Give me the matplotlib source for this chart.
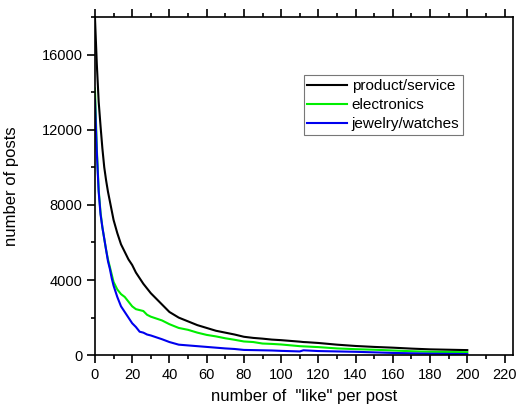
import matplotlib.pyplot as plt
from matplotlib.ticker import MultipleLocator

plt.rcParams['font.family'] = ['Liberation Sans', 'DejaVu Sans']

likes = [0, 1, 2, 3, 4, 5, 6, 7, 8, 9, 10, 12, 14, 16, 18, 20, 22, 24, 26, 28,
         30, 33, 36, 40, 45, 50, 55, 60, 65, 70, 75, 80, 85, 90, 95, 100,
         110, 112, 114, 120, 130, 140, 150, 160, 170, 180, 190, 200]

product_service = [18000, 15500, 13500, 12200, 11000, 10000, 9300, 8700, 8200, 7700,
                   7200, 6500, 5900, 5500, 5100, 4800, 4400, 4100, 3800, 3550,
                   3300, 3000, 2700, 2300, 2000, 1800, 1600, 1450, 1300, 1200,
                   1100, 980, 920, 880, 830, 800, 720, 700, 690, 650,
                   560, 490, 440, 400, 350, 310, 290, 270]

electronics = [14200, 11000, 8800, 7600, 6800, 6200, 5600, 5100, 4700, 4300,
               3900, 3500, 3250, 3100, 2850, 2600, 2450, 2400, 2350, 2150,
               2050, 1950, 1850, 1650, 1450, 1350, 1200, 1080, 1000, 900,
               820, 730, 700, 620, 600, 570, 480, 470, 460, 430,
               360, 320, 290, 250, 210, 180, 170, 160]

jewelry_watches = [13600, 10800, 8700, 7500, 6800, 6200, 5600, 5000, 4600, 4100,
                   3700, 3100, 2600, 2300, 2000, 1700, 1500, 1250, 1200, 1100,
                   1050, 950, 850, 700, 560, 520, 480, 440, 400, 360,
                   330, 280, 270, 260, 250, 230, 200, 260, 250, 220,
                   200, 180, 150, 120, 100, 80, 70, 60]

fig = plt.figure(figsize=(5.16, 4.05), dpi=100)
ax = fig.add_axes([0.184, 0.123, 0.81, 0.835])

ax.plot(likes, product_service, color='black', lw=1.5, label='product/service')
ax.plot(likes, electronics, color='#00ee00', lw=1.5, label='electronics')
ax.plot(likes, jewelry_watches, color='#0000ee', lw=1.5, label='jewelry/watches')

ax.set_xlim(0, 224.5)
ax.set_ylim(0, 18000)
ax.xaxis.set_major_locator(MultipleLocator(20))
ax.xaxis.set_minor_locator(MultipleLocator(10))
ax.yaxis.set_major_locator(MultipleLocator(4000))
ax.yaxis.set_minor_locator(MultipleLocator(2000))
ax.tick_params(which='both', direction='out', top=True, right=False,
               width=1.2, labelsize=10.5)
ax.tick_params(which='major', length=6, pad=3)
ax.tick_params(which='minor', length=3)
for s in ax.spines.values():
    s.set_linewidth(1.2)

ax.set_xlabel('number of  "like" per post', fontsize=12, labelpad=5)
ax.set_ylabel('number of posts', fontsize=12, labelpad=16)

leg = ax.legend(loc='upper left', bbox_to_anchor=(0.499, 0.828), fontsize=11,
                handlelength=2.6, handletextpad=0.3, borderpad=0.25,
                labelspacing=0.33, fancybox=False, framealpha=1,
                borderaxespad=0)
leg.get_frame().set_edgecolor('#777777')
leg.get_frame().set_linewidth(0.8)

fig.savefig('out.png', dpi=100)
